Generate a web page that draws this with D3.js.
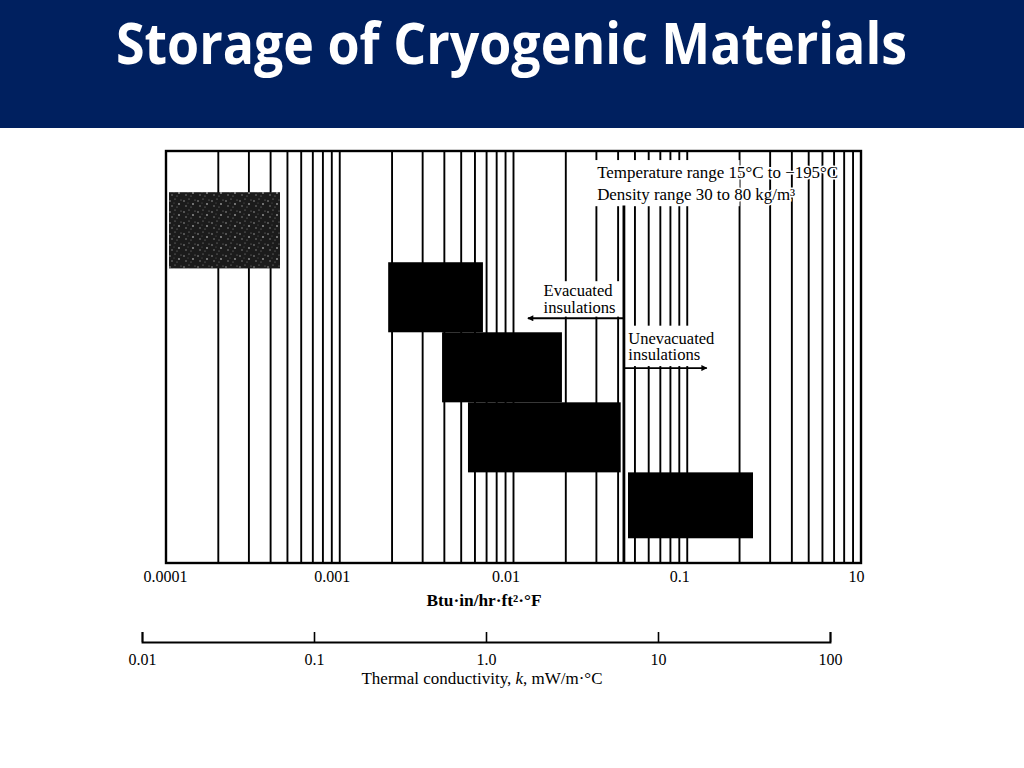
<!DOCTYPE html>
<html>
<head>
<meta charset="utf-8">
<script src="https://cdn.jsdelivr.net/npm/d3@7"></script>
<style>
  body { margin: 0; background: #fff; }
  svg { display: block; }
</style>
</head>
<body>
<script>
// values
const btuDecades = [0.0001, 0.001, 0.01, 0.1, 1];
const btuLabels = ["0.0001", "0.001", "0.01", "0.1", "10"];   // printed "10" at the end, as in the scan
const siTicks = [0.01, 0.1, 1, 10, 100];
const siLabels = ["0.01", "0.1", "1.0", "10", "100"];

// insulation bands: k range (Btu) and vertical position (0 top .. 100 bottom of frame)
const bandKLow = [0.0001, 0.0019, 0.00388, 0.00547, 0.0456];
const bandKHigh = [0.000453, 0.00667, 0.019, 0.0414, 0.239];
const bandTop = [10, 27, 44, 61, 78];
const bandBottom = [28.5, 44, 61, 78, 94];
const bandSpeckled = [true, false, false, false, false];

const dividerK = 0.0432;
const dividerTop = 13.2;

const width = 1024, height = 768;

const svg = d3.select('body')
    .append('svg')
    .attr('width', width)
    .attr('height', height);

// title bar
svg.append('rect')
    .attr('x', 0).attr('y', 0)
    .attr('width', width).attr('height', 128)
    .attr('fill', '#00205f');

svg.append('text')
    .attr('x', 116).attr('y', 64)
    .attr('textLength', 791)
    .attr('lengthAdjust', 'spacingAndGlyphs')
    .attr('fill', '#fff')
    .style('font-family', '"Open Sans", "Noto Sans", sans-serif')
    .style('font-weight', 700)
    .style('font-size', '58px')
    .text('Storage of Cryogenic Materials');

const x = d3.scaleLog().domain([1e-4, 1]).range([166, 861]);
const y = d3.scaleLinear().domain([0, 100]).range([151, 563]);
const xSI = d3.scaleLog().domain([0.01, 100]).range([142, 830]);

const serif = '"Liberation Serif", "DejaVu Serif", serif';

// speckle texture for the first band
const defs = svg.append('defs');
const pat = defs.append('pattern')
    .attr('id', 'speckle')
    .attr('patternUnits', 'userSpaceOnUse')
    .attr('width', 14).attr('height', 11);
pat.append('rect').attr('width', 14).attr('height', 11).attr('fill', '#1b1b1b');
[[2, 3, 0.8], [7, 1, 0.6], [11, 6, 0.9], [4, 8, 0.7], [9, 9, 0.5], [13, 2, 0.5], [6, 5, 0.4]]
    .forEach(p => pat.append('circle')
        .attr('cx', p[0]).attr('cy', p[1]).attr('r', p[2])
        .attr('fill', '#9a9a9a'));

defs.append('marker')
    .attr('id', 'arrow')
    .attr('viewBox', '0 0 10 10')
    .attr('refX', 9).attr('refY', 5)
    .attr('markerWidth', 10).attr('markerHeight', 6)
    .attr('markerUnits', 'userSpaceOnUse')
    .attr('orient', 'auto')
    .append('path')
    .attr('d', 'M0,0L10,5L0,10z')
    .attr('fill', '#000');

// vertical log grid lines (1..9 in each decade)
const gridValues = [];
btuDecades.slice(0, -1).forEach(d => {
    for (let m = 2; m <= 9; m++) gridValues.push(d * m);
});
btuDecades.slice(1, -1).forEach(d => gridValues.push(d));

svg.append('g')
    .selectAll('line')
    .data(gridValues)
    .enter()
    .append('line')
    .attr('x1', d => x(d)).attr('x2', d => x(d))
    .attr('y1', y(0)).attr('y2', y(100))
    .attr('stroke', '#000')
    .attr('stroke-width', 1.9);

// white patches behind the labels (they cut the grid)
const patches = [
    { k0: 0.0292, k1: 0.2, t: 2.2, b: 13.4 },
    { k0: 0.0137, k1: 0.0432, t: 31.6, b: 40.2 },
    { k0: 0.0438, k1: 0.14, t: 42.4, b: 52.2 }
];
svg.append('g')
    .selectAll('rect')
    .data(patches)
    .enter()
    .append('rect')
    .attr('x', d => x(d.k0))
    .attr('y', d => y(d.t))
    .attr('width', d => x(d.k1) - x(d.k0))
    .attr('height', d => y(d.b) - y(d.t))
    .attr('fill', '#fff');

// frame
svg.append('rect')
    .attr('x', x(1e-4)).attr('y', y(0))
    .attr('width', x(1) - x(1e-4))
    .attr('height', y(100) - y(0))
    .attr('fill', 'none')
    .attr('stroke', '#000')
    .attr('stroke-width', 2.4);

// bands
svg.append('g')
    .selectAll('rect')
    .data(bandKLow.map((k, i) => ({ k0: k, k1: bandKHigh[i], t: bandTop[i], b: bandBottom[i], s: bandSpeckled[i] })))
    .enter()
    .append('rect')
    .attr('x', d => x(d.k0) + (d.s ? 3 : 0))
    .attr('y', d => y(d.t))
    .attr('width', d => x(d.k1) - x(d.k0) - (d.s ? 3 : 0))
    .attr('height', d => y(d.b) - y(d.t))
    .attr('fill', d => d.s ? 'url(#speckle)' : '#000');

// evacuated / unevacuated divider
svg.append('line')
    .attr('x1', x(dividerK)).attr('x2', x(dividerK))
    .attr('y1', y(dividerTop)).attr('y2', y(100))
    .attr('stroke', '#000')
    .attr('stroke-width', 2.8);

// arrows
const arrows = [
    { k0: dividerK, k1: 0.0121, v: 40.6 },
    { k0: dividerK, k1: 0.1295, v: 52.7 }
];
svg.append('g')
    .selectAll('line')
    .data(arrows)
    .enter()
    .append('line')
    .attr('x1', d => x(d.k0)).attr('x2', d => x(d.k1))
    .attr('y1', d => y(d.v)).attr('y2', d => y(d.v))
    .attr('stroke', '#000')
    .attr('stroke-width', 1.9)
    .attr('marker-end', 'url(#arrow)');

// annotations
const notes = [
    { k: 0.0303, v: 6.6, t: 'Temperature range 15°C to \u2212195°C', w: 241 },
    { k: 0.0303, v: 12.0, t: 'Density range 30 to 80 kg/m\u00b3', w: 198 },
    { k: 0.0149, v: 35.3, t: 'Evacuated', w: 69 },
    { k: 0.0149, v: 39.2, t: 'insulations', w: 72 },
    { k: 0.0458, v: 46.9, t: 'Unevacuated', w: 86 },
    { k: 0.0458, v: 50.8, t: 'insulations', w: 72 }
];
svg.append('g')
    .selectAll('text')
    .data(notes)
    .enter()
    .append('text')
    .attr('x', d => x(d.k))
    .attr('y', d => y(d.v))
    .attr('textLength', d => d.w)
    .attr('lengthAdjust', 'spacingAndGlyphs')
    .style('font-family', serif)
    .style('font-size', '16px')
    .style('paint-order', 'stroke')
    .attr('stroke', '#fff')
    .attr('stroke-width', 3)
    .attr('fill', '#000')
    .text(d => d.t);

// Btu axis labels
const btuAxis = d3.axisBottom(x)
    .tickValues(btuDecades)
    .tickFormat((d, i) => btuLabels[i])
    .tickSize(0)
    .tickPadding(8);

const gBtu = svg.append('g')
    .attr('transform', `translate(0,${y(100)})`)
    .call(btuAxis);
gBtu.select('.domain').remove();
gBtu.selectAll('text')
    .style('font-family', serif)
    .style('font-size', '16px')
    .attr('dx', (d, i) => i === 0 ? -1 : (i === 4 ? -5 : -8));

svg.append('text')
    .attr('x', 484).attr('y', 606)
    .attr('text-anchor', 'middle')
    .attr('textLength', 115)
    .attr('lengthAdjust', 'spacingAndGlyphs')
    .style('font-family', serif)
    .style('font-size', '16px')
    .style('font-weight', 700)
    .text('Btu\u00b7in/hr\u00b7ft\u00b2\u00b7°F');

// SI axis
const siAxis = d3.axisBottom(xSI)
    .tickValues(siTicks)
    .tickFormat((d, i) => siLabels[i])
    .tickSize(-10)
    .tickPadding(12);

const gSI = svg.append('g')
    .attr('transform', 'translate(0,642)')
    .call(siAxis);
gSI.select('.domain').attr('stroke-width', 1.9);
gSI.selectAll('.tick line').attr('stroke-width', 1.6);
gSI.selectAll('text')
    .style('font-family', serif)
    .style('font-size', '16px');

const tc = svg.append('text')
    .attr('x', 482).attr('y', 684)
    .attr('text-anchor', 'middle')
    .attr('textLength', 241)
    .attr('lengthAdjust', 'spacingAndGlyphs')
    .style('font-family', serif)
    .style('font-size', '16px');
tc.append('tspan').text('Thermal conductivity, ');
tc.append('tspan').style('font-style', 'italic').text('k');
tc.append('tspan').text(', mW/m\u00b7°C');
</script>
</body>
</html>
